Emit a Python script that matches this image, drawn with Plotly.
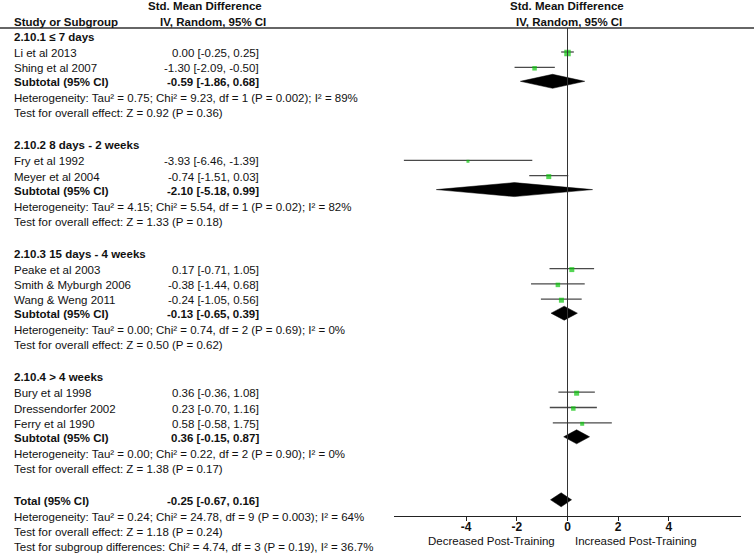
import plotly.graph_objects as go

# ---- data ----
group_titles = ["2.10.1 ≤ 7 days", "2.10.2 8 days - 2 weeks",
                "2.10.3 15 days - 4 weeks", "2.10.4 > 4 weeks"]

studies = ["Li et al 2013", "Shing et al 2007",
           "Fry et al 1992", "Meyer et al 2004",
           "Peake et al 2003", "Smith & Myburgh 2006", "Wang & Weng 2011",
           "Bury et al 1998", "Dressendorfer 2002", "Ferry et al 1990"]
study_group = [0, 0, 1, 1, 2, 2, 2, 3, 3, 3]
smd = [0.00, -1.30, -3.93, -0.74, 0.17, -0.38, -0.24, 0.36, 0.23, 0.58]
ci_low = [-0.25, -2.09, -6.46, -1.51, -0.71, -1.44, -1.05, -0.36, -0.70, -0.58]
ci_high = [0.25, -0.50, -1.39, 0.03, 1.05, 0.68, 0.56, 1.08, 1.16, 1.75]

sub_est = [-0.59, -2.10, -0.13, 0.36]
sub_low = [-1.86, -5.18, -0.65, -0.15]
sub_high = [0.68, 0.99, 0.39, 0.87]
sub_het = ["Heterogeneity: Tau² = 0.75; Chi² = 9.23, df = 1 (P = 0.002); I² = 89%",
           "Heterogeneity: Tau² = 4.15; Chi² = 5.54, df = 1 (P = 0.02); I² = 82%",
           "Heterogeneity: Tau² = 0.00; Chi² = 0.74, df = 2 (P = 0.69); I² = 0%",
           "Heterogeneity: Tau² = 0.00; Chi² = 0.22, df = 2 (P = 0.90); I² = 0%"]
sub_test = ["Test for overall effect: Z = 0.92 (P = 0.36)",
            "Test for overall effect: Z = 1.33 (P = 0.18)",
            "Test for overall effect: Z = 0.50 (P = 0.62)",
            "Test for overall effect: Z = 1.38 (P = 0.17)"]

total_est, total_low, total_high = -0.25, -0.67, 0.16
total_notes = ["Heterogeneity: Tau² = 0.24; Chi² = 24.78, df = 9 (P = 0.003); I² = 64%",
               "Test for overall effect: Z = 1.18 (P = 0.24)",
               "Test for subgroup differences: Chi² = 4.74, df = 3 (P = 0.19), I² = 36.7%"]

tick_vals = [-4, -2, 0, 2, 4]
tick_text = ["-4", "-2", "0", "2", "4"]

# ---- layout helpers (pixel coordinates) ----
W, H = 754, 556
FONT = "Liberation Sans, Arial, sans-serif"
FS = 11.5
NAME_X, CI_X = 12, 261
GREEN = "#0cc40c"
box_px = [6.5, 4.5, 3, 5, 5, 4.5, 5, 5, 4.5, 4]  # weight squares


def px(x):
    return x / W


def fmt(e, l, h):
    return f"{e:.2f} [{l:.2f}, {h:.2f}]"


annotations = []


def text(x, y, s, bold=False, anchor="left", size=FS):
    annotations.append(dict(
        x=px(x), y=y, xref="paper", yref="y", text=f"<b>{s}</b>" if bold else s,
        showarrow=False, xanchor=anchor, yanchor="middle",
        font=dict(family=FONT, size=size, color="#111")))


# walk down the rows
study_y = [0] * len(studies)
sub_y = []
y = 37
for g, title in enumerate(group_titles):
    text(NAME_X, y, title, bold=True)
    y += 16
    idx = [i for i, sg in enumerate(study_group) if sg == g]
    for i in idx:
        study_y[i] = y
        text(NAME_X, y, studies[i])
        text(CI_X, y, fmt(smd[i], ci_low[i], ci_high[i]), anchor="right")
        y += 15.3
    y += 14 - 15.3
    sub_y.append(y)
    text(NAME_X, y, "Subtotal (95% CI)", bold=True)
    text(CI_X, y, fmt(sub_est[g], sub_low[g], sub_high[g]), bold=True, anchor="right")
    y += 16
    text(NAME_X, y, sub_het[g])
    y += 15
    text(NAME_X, y, sub_test[g])
    y += 32

total_y = y
text(NAME_X, y, "Total (95% CI)", bold=True)
text(CI_X, y, fmt(total_est, total_low, total_high), bold=True, anchor="right")
y += 16
for note in total_notes:
    text(NAME_X, y, note)
    y += 15

# headers
text(205, 6, "Std. Mean Difference", bold=True, anchor="center")
text(213, 22, "IV, Random, 95% CI", bold=True, anchor="center")
text(NAME_X, 22, "Study or Subgroup", bold=True)
text(567, 6, "Std. Mean Difference", bold=True, anchor="center")
text(569, 22, "IV, Random, 95% CI", bold=True, anchor="center")
text(557, 541, "Decreased Post-Training", anchor="right")
text(573, 541, "Increased Post-Training", anchor="left")

fig = go.Figure()

# confidence interval whiskers
wx, wy = [], []
for i in range(len(studies)):
    wx += [ci_low[i], ci_high[i], None]
    wy += [study_y[i] - 1, study_y[i] - 1, None]
fig.add_trace(go.Scatter(x=wx, y=wy, mode="lines",
                         line=dict(color="#4a4a4a", width=1.3), hoverinfo="skip"))

# study squares
fig.add_trace(go.Scatter(x=smd, y=study_y, mode="markers",
                         marker=dict(symbol="square", color=GREEN, size=box_px,
                                     line=dict(width=0)),
                         text=studies, hoverinfo="text+x"))

# pooled diamonds
half = 7
for e, l, h, yy in zip(sub_est + [total_est], sub_low + [total_low],
                       sub_high + [total_high], sub_y + [total_y]):
    yy -= 1
    fig.add_trace(go.Scatter(x=[l, e, h, e, l], y=[yy, yy - half, yy, yy + half, yy],
                             mode="lines", fill="toself", fillcolor="black",
                             line=dict(color="black", width=0.5), hoverinfo="skip"))

fig.update_layout(
    width=W, height=H, margin=dict(l=0, r=0, t=0, b=0),
    paper_bgcolor="white", plot_bgcolor="white", showlegend=False,
    annotations=annotations,
    shapes=[
        dict(type="line", xref="paper", yref="y", x0=0, x1=1, y0=28, y1=28,
             line=dict(color="#333", width=1.3)),
        dict(type="line", xref="x", yref="y", x0=0, x1=0, y0=28, y1=516,
             line=dict(color="#333", width=1)),
    ],
    xaxis=dict(domain=[394 / W, 741 / W], range=[-6.85, 6.85], anchor="free",
               position=1 - 516 / H, showline=True, linecolor="#222", linewidth=1,
               ticks="outside", ticklen=4, tickcolor="#222",
               tickvals=tick_vals, ticktext=tick_text, ticklabelstandoff=-4,
               showgrid=False, zeroline=False,
               tickfont=dict(family=FONT, size=12, color="#111", weight="bold")),
    yaxis=dict(range=[H, 0], domain=[0, 1], visible=False, fixedrange=True),
)

fig.write_html("out.html", config={"displayModeBar": False},
               post_script="document.body.style.margin='0';")
